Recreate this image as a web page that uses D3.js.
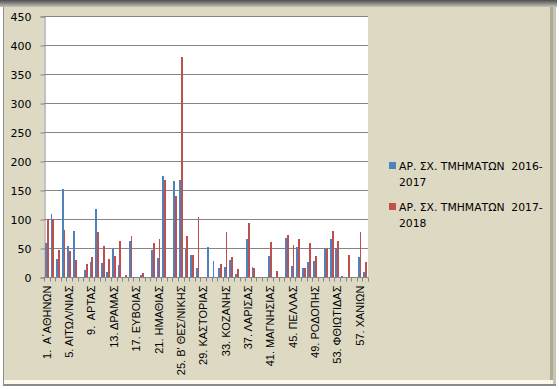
<!DOCTYPE html>
<html>
<head>
<meta charset="utf-8">
<script src="https://cdn.jsdelivr.net/npm/d3@7"></script>
<style>
    body { margin: 0; background: #ffffff; }
    svg { display: block; }
</style>
</head>
<body>
<svg id="chart" width="559" height="389"></svg>
<script>
// categories (school directorates), numbered like the original sheet
var categories = [
    "1.  Α΄ΑΘΗΝΩΝ", "2. Β΄ΑΘΗΝΩΝ", "3. Γ΄ΑΘΗΝΩΝ", "4. Δ΄ΑΘΗΝΩΝ",
    "5. ΑΙΤΩΛ/ΝΙΑΣ", "6. ΑΝΑΤ. ΑΤΤΙΚΗΣ", "7. ΑΡΓΟΛΙΔΑΣ", "8. ΑΡΚΑΔΙΑΣ",
    "9.  ΑΡΤΑΣ", "10. ΑΧΑΪΑΣ", "11. ΒΟΙΩΤΙΑΣ", "12. ΓΡΕΒΕΝΩΝ",
    "13. ΔΡΑΜΑΣ", "14. ΔΥΤ. ΑΤΤΙΚΗΣ", "15. ΔΩΔΕΚΑΝΗΣΟΥ", "16. ΕΒΡΟΥ",
    "17. ΕΥΒΟΙΑΣ", "18. ΕΥΡΥΤΑΝΙΑΣ", "19. ΖΑΚΥΝΘΟΥ", "20. ΗΛΕΙΑΣ",
    "21. ΗΜΑΘΙΑΣ", "22. ΗΡΑΚΛΕΙΟΥ", "23. ΘΕΣΠΡΩΤΙΑΣ", "24. Α' ΘΕΣ/ΝΙΚΗΣ",
    "25. Β' ΘΕΣ/ΝΙΚΗΣ", "26. ΙΩΑΝΝΙΝΩΝ", "27. ΚΑΒΑΛΑΣ", "28. ΚΑΡΔΙΤΣΑΣ",
    "29. ΚΑΣΤΟΡΙΑΣ", "30. ΚΕΡΚΥΡΑΣ", "31. ΚΕΦΑΛΛΗΝΙΑΣ", "32. ΚΙΛΚΙΣ",
    "33. ΚΟΖΑΝΗΣ", "34. ΚΟΡΙΝΘΙΑΣ", "35. ΚΥΚΛΑΔΩΝ", "36. ΛΑΚΩΝΙΑΣ",
    "37. ΛΑΡΙΣΑΣ", "38. ΛΑΣΙΘΙΟΥ", "39. ΛΕΣΒΟΥ", "40. ΛΕΥΚΑΔΑΣ",
    "41. ΜΑΓΝΗΣΙΑΣ", "42. ΜΕΣΣΗΝΙΑΣ", "43. ΞΑΝΘΗΣ", "44. ΠΕΙΡΑΙΑ",
    "45. ΠΕΛΛΑΣ", "46. ΠΙΕΡΙΑΣ", "47. ΠΡΕΒΕΖΑΣ", "48. ΡΕΘΥΜΝΟΥ",
    "49. ΡΟΔΟΠΗΣ", "50. ΣΑΜΟΥ", "51. ΣΕΡΡΩΝ", "52. ΤΡΙΚΑΛΩΝ",
    "53. ΦΘΙΩΤΙΔΑΣ", "54. ΦΛΩΡΙΝΑΣ", "55. ΦΩΚΙΔΑΣ", "56. ΧΑΛΚΙΔΙΚΗΣ",
    "57. ΧΑΝΙΩΝ", "58. ΧΙΟΥ"
];

// ΑΡ. ΣΧ. ΤΜΗΜΑΤΩΝ 2016-2017
var values2016 = [
    58, 109, 31, 152, 53, 79, 0, 12, 26, 117,
    24, 9, 48, 21, 0, 62, 0, 3, 0, 47,
    33, 175, 0, 165, 168, 49, 38, 16, 0, 52,
    28, 16, 17, 29, 5, 0, 66, 17, 0, 0,
    36, 0, 0, 67, 19, 52, 16, 26, 28, 0,
    50, 66, 50, 2, 0, 0, 35, 9
];

// ΑΡ. ΣΧ. ΤΜΗΜΑΤΩΝ 2017-2018
var values2017 = [
    100, 100, 47, 81, 45, 29, 0, 22, 35, 78,
    54, 31, 36, 62, 4, 71, 0, 7, 0, 59,
    66, 168, 0, 139, 380, 71, 38, 104, 0, 0,
    0, 22, 78, 35, 14, 0, 93, 16, 0, 0,
    60, 10, 0, 73, 55, 66, 16, 59, 36, 0,
    50, 80, 62, 0, 38, 0, 78, 26
];

var seriesNames = ["ΑΡ. ΣΧ. ΤΜΗΜΑΤΩΝ  2016-2017", "ΑΡ. ΣΧ. ΤΜΗΜΑΤΩΝ  2017-2018"];
var seriesColors = ["#4F81BD", "#C0504D"];
var yTicks = [0, 50, 100, 150, 200, 250, 300, 350, 400, 450];

var svg = d3.select("#chart");

// frame: beige chart area with the old excel shadow look
var defs = svg.append("defs");
var topGrad = defs.append("linearGradient").attr("id", "topShade")
    .attr("x1", 0).attr("y1", 0).attr("x2", 0).attr("y2", 1);
topGrad.append("stop").attr("offset", "0%").attr("stop-color", "#4f4f4f");
topGrad.append("stop").attr("offset", "100%").attr("stop-color", "#c4c2b8");

svg.append("rect").attr("x", 0).attr("y", 0).attr("width", 557).attr("height", 7)
    .attr("fill", "url(#topShade)");
svg.append("rect").attr("x", 3).attr("y", 7).attr("width", 1).attr("height", 379)
    .attr("fill", "#8c8c8c");
svg.append("rect").attr("x", 4).attr("y", 7).attr("width", 546).attr("height", 373)
    .attr("fill", "#DDD9C3");
svg.append("rect").attr("x", 550).attr("y", 7).attr("width", 3).attr("height", 376)
    .attr("fill", "#AEAA95");
svg.append("rect").attr("x", 553).attr("y", 7).attr("width", 3).attr("height", 378)
    .attr("fill", "#C8C4AE");
svg.append("rect").attr("x", 4).attr("y", 380).attr("width", 549).attr("height", 4)
    .attr("fill", "#FBF9EC");
svg.append("rect").attr("x", 3).attr("y", 384).attr("width", 553).attr("height", 2)
    .attr("fill", "#8c8c8c");

// plot area
var plotLeft = 44, plotRight = 368, plotTop = 16, plotBottom = 277;

svg.append("rect")
    .attr("x", plotLeft).attr("y", plotTop)
    .attr("width", plotRight - plotLeft).attr("height", plotBottom - plotTop)
    .attr("fill", "#ffffff");

var xScale = d3.scaleBand()
    .domain(categories)
    .range([plotLeft, plotRight])
    .padding(0);

// two bars per category, half a bar of gap each side (gap width 100%)
var xInner = d3.scaleBand()
    .domain([0, 1])
    .range([0, xScale.bandwidth()])
    .paddingInner(0)
    .paddingOuter(0.5);

var yScale = d3.scaleLinear()
    .domain([0, 450])
    .range([plotBottom, plotTop]);

// gridlines
svg.append("g")
    .selectAll("line")
    .data(yTicks.slice(1))
    .enter().append("line")
    .attr("x1", plotLeft).attr("x2", plotRight)
    .attr("y1", function(d) { return Math.round(yScale(d)) + 0.5; })
    .attr("y2", function(d) { return Math.round(yScale(d)) + 0.5; })
    .attr("stroke", "#868686");

// bars
var bars = svg.append("g").attr("shape-rendering", "crispEdges");
[values2016, values2017].forEach(function(vals, s) {
    bars.selectAll(".s" + s)
        .data(vals)
        .enter().append("rect")
        .attr("class", "s" + s)
        .attr("x", function(d, i) { return xScale(categories[i]) + xInner(s); })
        .attr("y", function(d) { return yScale(d); })
        .attr("width", xInner.bandwidth())
        .attr("height", function(d) { return plotBottom - yScale(d); })
        .attr("fill", seriesColors[s]);
});

// y axis
var yAxis = d3.axisLeft(yScale).tickValues(yTicks).tickSize(4).tickPadding(9);
var yG = svg.append("g")
    .attr("transform", "translate(" + (plotLeft + 0.5) + ",0.5)")
    .call(yAxis);
yG.select(".domain").attr("stroke", "#868686");
yG.selectAll(".tick line").attr("stroke", "#868686");
yG.selectAll("text")
    .attr("font-family", "DejaVu Sans, Verdana, sans-serif")
    .attr("font-size", "11px")
    .attr("fill", "#000");

// x axis: tick marks sit on the category boundaries, labels on every 4th
var xG = svg.append("g")
    .attr("transform", "translate(0," + (plotBottom + 0.5) + ")");
xG.append("line")
    .attr("x1", plotLeft).attr("x2", plotRight)
    .attr("stroke", "#868686");
xG.selectAll(".xtick")
    .data(categories.concat(["end"]))
    .enter().append("line")
    .attr("class", "xtick")
    .attr("x1", function(d, i) { return Math.round(plotLeft + i * xScale.step()) + 0.5; })
    .attr("x2", function(d, i) { return Math.round(plotLeft + i * xScale.step()) + 0.5; })
    .attr("y1", 0).attr("y2", 4)
    .attr("stroke", "#868686");

var labelled = categories.filter(function(d, i) { return i % 4 == 0; });
xG.selectAll(".xlabel")
    .data(labelled)
    .enter().append("text")
    .attr("class", "xlabel")
    .attr("transform", function(d) {
        return "translate(" + (xScale(d) + xScale.bandwidth() / 2 + 4) + ",8) rotate(-90)";
    })
    .attr("text-anchor", "end")
    .attr("font-family", "Liberation Sans, Arial, sans-serif")
    .attr("font-size", "11px")
    .style("white-space", "pre")
    .attr("fill", "#000")
    .text(function(d) { return d; });

// legend
var legend = svg.append("g")
    .attr("font-family", "DejaVu Sans, Verdana, sans-serif")
    .attr("font-size", "10.8px");
seriesNames.forEach(function(name, s) {
    var top = 162 + s * 41;
    var parts = name.split("-");
    legend.append("rect")
        .attr("x", 389).attr("y", top)
        .attr("width", 7).attr("height", 7)
        .attr("fill", seriesColors[s]);
    legend.append("text")
        .attr("x", 399).attr("y", top + 7.5)
        .style("white-space", "pre")
        .text(parts[0] + "-");
    legend.append("text")
        .attr("x", 399).attr("y", top + 24)
        .text(parts[1]);
});
</script>
</body>
</html>
